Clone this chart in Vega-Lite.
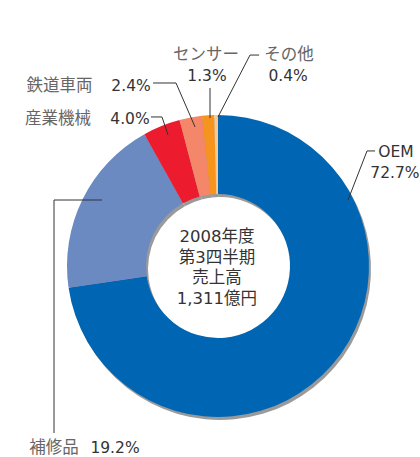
{
  "$schema": "https://vega.github.io/schema/vega-lite/v6.json",
  "width": 420,
  "height": 457,
  "autosize": {"type": "none"},
  "padding": 0,
  "background": "white",
  "config": {"view": {"stroke": null}, "font": "'DejaVu Sans', 'Noto Sans CJK JP', sans-serif"},
  "datasets": {
    "shares": [
      {"k": 1, "cat": "OEM", "pct": 72.7},
      {"k": 2, "cat": "補修品", "pct": 19.2},
      {"k": 3, "cat": "産業機械", "pct": 4.0},
      {"k": 4, "cat": "鉄道車両", "pct": 2.4},
      {"k": 5, "cat": "センサー", "pct": 1.3},
      {"k": 6, "cat": "その他", "pct": 0.4}
    ],
    "labels": [
      {"t": "センサー", "kind": "name", "u": -7.9, "v": 139.7},
      {"t": "1.3%", "kind": "num", "u": -7.3, "v": 125.8},
      {"t": "その他", "kind": "name", "u": 47.0, "v": 139.7},
      {"t": "0.4%", "kind": "num", "u": 46.4, "v": 125.8},
      {"t": "鉄道車両", "kind": "name", "u": -105.0, "v": 119.2},
      {"t": "2.4%", "kind": "num", "u": -57.6, "v": 119.2},
      {"t": "産業機械", "kind": "name", "u": -106.0, "v": 97.4},
      {"t": "4.0%", "kind": "num", "u": -58.3, "v": 97.4},
      {"t": "OEM", "kind": "num", "u": 117.9, "v": 75.5},
      {"t": "72.7%", "kind": "num", "u": 117.2, "v": 61.6},
      {"t": "補修品", "kind": "name", "u": -108.6, "v": -120.5},
      {"t": "19.2%", "kind": "num", "u": -68.2, "v": -120.5},
      {"t": "2008年度", "kind": "center", "u": -0.7, "v": 19.2},
      {"t": "第3四半期", "kind": "center", "u": -0.7, "v": 5.3},
      {"t": "売上高", "kind": "center", "u": -0.7, "v": -7.9},
      {"t": "1,311億円", "kind": "center", "u": -0.7, "v": -21.9}
    ],
    "leaders": [
      {"id": "その他", "s": 1, "u": 27.2, "v": 139.7},
      {"id": "その他", "s": 2, "u": 21.2, "v": 139.7},
      {"id": "その他", "s": 3, "u": 0.0, "v": 98.7},
      {"id": "センサー", "s": 1, "u": -5.3, "v": 117.9},
      {"id": "センサー", "s": 2, "u": -5.3, "v": 98.0},
      {"id": "鉄道車両", "s": 1, "u": -43.0, "v": 121.2},
      {"id": "鉄道車両", "s": 2, "u": -27.8, "v": 121.2},
      {"id": "鉄道車両", "s": 3, "u": -15.2, "v": 92.1},
      {"id": "産業機械", "s": 1, "u": -44.4, "v": 98.7},
      {"id": "産業機械", "s": 2, "u": -37.1, "v": 98.7},
      {"id": "産業機械", "s": 3, "u": -33.1, "v": 86.8},
      {"id": "OEM", "s": 1, "u": 104.0, "v": 76.2},
      {"id": "OEM", "s": 2, "u": 98.7, "v": 76.2},
      {"id": "OEM", "s": 3, "u": 86.1, "v": 43.7},
      {"id": "補修品", "s": 1, "u": -76.8, "v": 43.7},
      {"id": "補修品", "s": 2, "u": -108.6, "v": 43.7},
      {"id": "補修品", "s": 3, "u": -108.6, "v": -110.6}
    ]
  },
  "layer": [
    {
      "data": {"name": "shares"},
      "mark": {"type": "arc", "outerRadius": 151, "innerRadius": 72, "xOffset": 2, "yOffset": 3, "color": "#9a9a9a"},
      "encoding": {
        "x": {"datum": 0, "type": "quantitative", "scale": {"domain": [-144.37, 133.77], "nice": false, "zero": false}, "axis": null},
        "y": {"datum": 0, "type": "quantitative", "scale": {"domain": [-126.49, 176.16], "nice": false, "zero": false}, "axis": null},
        "theta": {"field": "pct", "type": "quantitative", "stack": true},
        "order": {"field": "k", "type": "quantitative"}
      }
    },
    {
      "data": {"name": "shares"},
      "mark": {"type": "arc", "outerRadius": 151, "innerRadius": 72},
      "encoding": {
        "x": {"datum": 0, "type": "quantitative", "axis": null},
        "y": {"datum": 0, "type": "quantitative", "axis": null},
        "theta": {"field": "pct", "type": "quantitative", "stack": true},
        "order": {"field": "k", "type": "quantitative"},
        "color": {
          "field": "cat", "type": "nominal", "legend": null,
          "scale": {
            "domain": ["OEM", "補修品", "産業機械", "鉄道車両", "センサー", "その他"],
            "range": ["#0066b3", "#6c8ac2", "#ec1c2e", "#f4866a", "#f7941d", "#fcc98a"]
          }
        }
      }
    },
    {
      "data": {"name": "leaders"},
      "mark": {"type": "line", "color": "#333333", "strokeWidth": 1},
      "encoding": {
        "x": {"field": "u", "type": "quantitative", "axis": null},
        "y": {"field": "v", "type": "quantitative", "axis": null},
        "detail": {"field": "id"},
        "order": {"field": "s", "type": "quantitative"}
      }
    },
    {
      "data": {"name": "labels"},
      "transform": [{"filter": "datum.kind === 'name'"}],
      "mark": {"type": "text", "align": "center", "baseline": "middle", "fontSize": 16.5, "color": "#666666"},
      "encoding": {
        "x": {"field": "u", "type": "quantitative", "axis": null},
        "y": {"field": "v", "type": "quantitative", "axis": null},
        "text": {"field": "t"}
      }
    },
    {
      "data": {"name": "labels"},
      "transform": [{"filter": "datum.kind === 'num'"}],
      "mark": {"type": "text", "align": "center", "baseline": "middle", "fontSize": 15.5, "color": "#333333"},
      "encoding": {
        "x": {"field": "u", "type": "quantitative", "axis": null},
        "y": {"field": "v", "type": "quantitative", "axis": null},
        "text": {"field": "t"}
      }
    },
    {
      "data": {"name": "labels"},
      "transform": [{"filter": "datum.kind === 'center'"}],
      "mark": {"type": "text", "align": "center", "baseline": "middle", "fontSize": 16.5, "color": "#333333"},
      "encoding": {
        "x": {"field": "u", "type": "quantitative", "axis": null},
        "y": {"field": "v", "type": "quantitative", "axis": null},
        "text": {"field": "t"}
      }
    }
  ]
}
